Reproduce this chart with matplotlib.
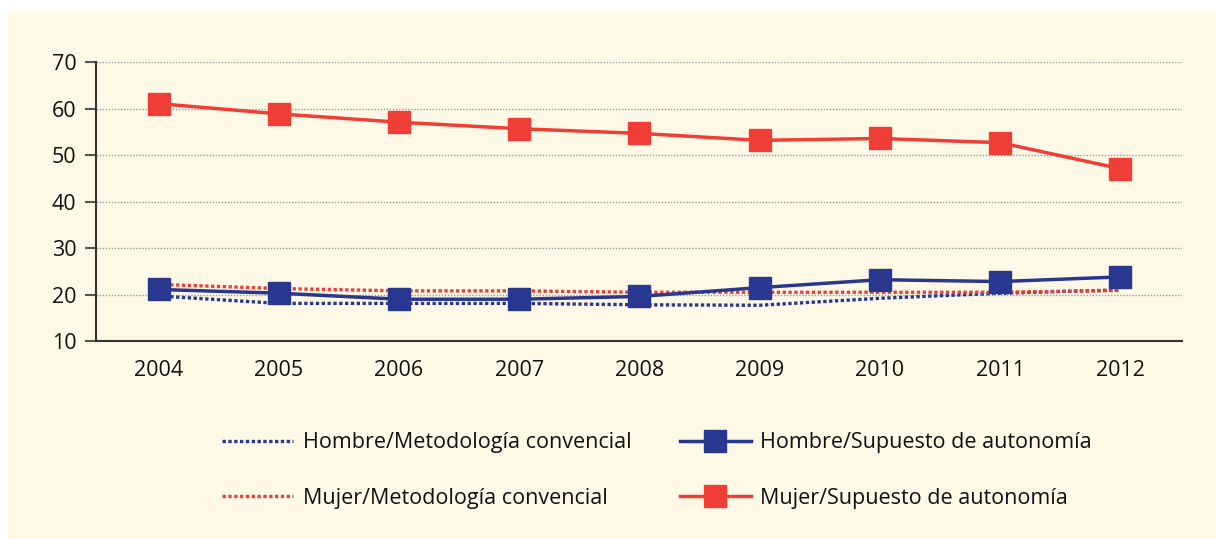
import numpy as np
import matplotlib
matplotlib.use('Agg')
import matplotlib.pyplot as plt
from matplotlib.patches import Rectangle

plt.rcParams['font.family'] = ['Open Sans', 'DejaVu Sans']

# Datos
years = [2004, 2005, 2006, 2007, 2008, 2009, 2010, 2011, 2012]
hombre_conv = [19.7, 18.1, 18.1, 18.1, 17.8, 17.7, 19.2, 20.3, 21.0]
mujer_conv = [22.2, 21.3, 20.8, 20.8, 20.5, 20.5, 20.5, 20.5, 20.9]
hombre_sup = [21.1, 20.3, 19.0, 19.0, 19.6, 21.5, 23.2, 22.8, 23.8]
mujer_sup = [61.1, 58.9, 57.1, 55.7, 54.7, 53.2, 53.6, 52.7, 47.1]

labels = ['Hombre/Metodología convencial', 'Mujer/Metodología convencial',
          'Hombre/Supuesto de autonomía', 'Mujer/Supuesto de autonomía']

BLUE = '#283891'
RED = '#EF3E36'
CREAM = '#FEF8E6'

fig = plt.figure(figsize=(12.16, 5.39), dpi=100)
fig.patch.set_facecolor('white')
# fondo crema
fig.patches.append(Rectangle((8 / 1216, 0), 1 - 8 / 1216, 1 - 12 / 539,
                             transform=fig.transFigure, facecolor=CREAM,
                             edgecolor='none', zorder=-5))

ax = fig.add_axes([0.0787, 0.3673, 0.9718 - 0.0787, 0.8844 - 0.3673])
ax.set_facecolor('none')
ax.set_zorder(2)

dot = (0, (1.0, 0.75))
l1, = ax.plot(years, hombre_conv, color=BLUE, lw=2.4, linestyle=dot, zorder=3)
l2, = ax.plot(years, mujer_conv, color=RED, lw=2.4, linestyle=dot, zorder=3)
l3, = ax.plot(years, hombre_sup, color=BLUE, lw=2.5, marker='s', ms=16.5,
              zorder=4)
l4, = ax.plot(years, mujer_sup, color=RED, lw=2.5, marker='s', ms=16.5,
              zorder=4)

ax.set_xlim(2003.477, 2012.51)
ax.set_ylim(10, 70)
ax.set_yticks(range(10, 71, 10))
ax.set_xticks(years)

for y in range(20, 71, 10):
    ax.axhline(y, color='#9a9a9a', lw=1.0, linestyle=(0, (1, 1.2)), zorder=1)

for s in ['top', 'right']:
    ax.spines[s].set_visible(False)
for s in ['left', 'bottom']:
    ax.spines[s].set_color('#333333')
    ax.spines[s].set_linewidth(1.5)

ax.tick_params(axis='y', length=8, width=1.5, color='#555555',
               labelsize=15.5, pad=6, labelcolor='#111111')
ax.tick_params(axis='x', length=0, labelsize=15.5, pad=14,
               labelcolor='#111111')

fig.legend([l1, l2, l3, l4], labels, ncol=2, loc='upper left',
           bbox_to_anchor=(203 / 1216, 1 - 413 / 539), frameon=False,
           fontsize=15.5, handlelength=3.3, handletextpad=0.45,
           columnspacing=2.23, labelspacing=1.6, labelcolor='#111111')

plt.savefig('out.png', dpi=100, facecolor='white')
